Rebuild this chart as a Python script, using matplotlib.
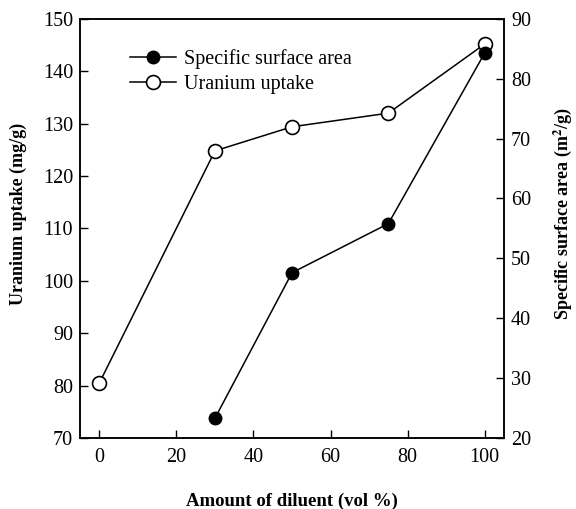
import matplotlib
matplotlib.use("Agg")
from matplotlib import pyplot as plt

plt.rcParams['font.family'] = ['Liberation Serif', 'DejaVu Serif']
plt.rcParams['mathtext.fontset'] = 'stix'

# data
diluent_u = [0, 30, 50, 75, 100]
uptake = [80.5, 124.8, 129.4, 132.0, 145.2]

diluent_s = [30, 50, 75, 100]
surface = [23.3, 47.6, 55.8, 84.3]

x_ticks = [0, 20, 40, 60, 80, 100]
left_ticks = [70, 80, 90, 100, 110, 120, 130, 140, 150]
right_ticks = [20, 30, 40, 50, 60, 70, 80, 90]

fig = plt.figure(figsize=(5.76, 5.09), dpi=100)
ax = fig.add_axes([0.139, 0.1395, 0.736, 0.8235])
ax2 = ax.twinx()

l1, = ax2.plot(diluent_s, surface, color='black', lw=1.1, marker='o', ms=9,
               mfc='black', mec='black', label='Specific surface area')
l2, = ax.plot(diluent_u, uptake, color='black', lw=1.1, marker='o', ms=10,
              mfc='white', mec='black', mew=1.2, label='Uranium uptake', zorder=5)

ax.set_xlim(-5, 105)
ax.set_ylim(70, 150)
ax2.set_ylim(20, 90)
ax.set_xticks(x_ticks)
ax.set_yticks(left_ticks)
ax2.set_yticks(right_ticks)

for a in (ax, ax2):
    a.tick_params(direction='in', length=6, width=1, labelsize=14.5)
    for s in a.spines.values():
        s.set_linewidth(1.1)
ax.tick_params(axis='x', pad=7)
ax.tick_params(axis='y', pad=5)
ax2.tick_params(axis='y', pad=5)

ax.set_xlabel('Amount of diluent (vol %)', fontsize=13.5, fontweight='bold')
ax.xaxis.set_label_coords(0.5, -0.13)
ax.set_ylabel('Uranium uptake (mg/g)', fontsize=13, fontweight='bold')
ax.yaxis.set_label_coords(-0.125, 0.535)
ax2.set_ylabel(r'Specific surface area (m$^{\mathbf{2}}$/g)', fontsize=13,
               fontweight='bold')
ax2.yaxis.set_label_coords(1.112, 0.535)

ax.legend([l1, l2], ['Specific surface area', 'Uranium uptake'],
          loc='upper left', bbox_to_anchor=(0.075, 0.97), frameon=False,
          fontsize=14.5, handlelength=2.3, handletextpad=0.4, labelspacing=0.25)

fig.savefig('out.png', dpi=100)
